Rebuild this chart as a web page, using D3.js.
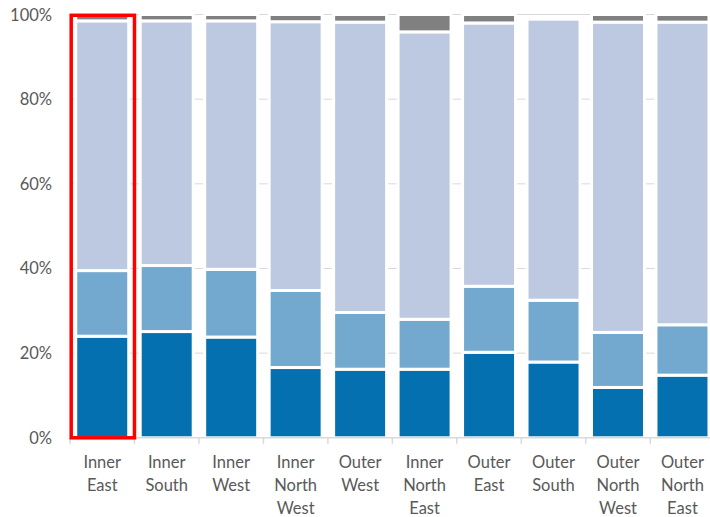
<!DOCTYPE html>
<html>
<head>
<meta charset="utf-8">
<script src="https://cdn.jsdelivr.net/npm/d3@7"></script>
<style>
  html, body { margin: 0; padding: 0; background: #fff; }
  svg { display: block; }
</style>
</head>
<body>
<svg id="chart" width="710" height="517"></svg>
<script>
const categories = [
  ["Inner", "East"], ["Inner", "South"], ["Inner", "West"], ["Inner", "North", "West"],
  ["Outer", "West"], ["Inner", "North", "East"], ["Outer", "East"], ["Outer", "South"],
  ["Outer", "North", "West"], ["Outer", "North", "East"]
];
const seriesNames = ["s1", "s2", "s3", "s4"];
const s1 = [24.0, 25.1, 23.8, 16.6, 16.2, 16.2, 20.2, 17.9, 11.9, 14.8];
const s2 = [15.5, 15.6, 16.0, 18.2, 13.4, 11.8, 15.6, 14.6, 13.0, 11.9];
const s3 = [59.0, 57.8, 58.7, 63.5, 68.6, 67.9, 62.2, 66.4, 73.3, 71.5];
const s4 = [1.5, 1.5, 1.5, 1.7, 1.8, 4.1, 2.0, 0.0, 1.8, 1.8];
const yTicks = [0, 20, 40, 60, 80, 100];

const colors = ["#0570b0", "#74a9cf", "#bdc9e1", "#808080"];
const seriesVals = [s1, s2, s3, s4];
const keys = categories.map(c => c.join(" "));
const table = keys.map((k, i) => {
  const row = { key: k };
  seriesNames.forEach((s, j) => row[s] = seriesVals[j][i]);
  return row;
});
const stacked = d3.stack().keys(seriesNames)(table);

const svg = d3.select("#chart");
const x0 = 70, x1 = 714.7, yTop = 14.5, yBot = 437.8;
const x = d3.scaleBand().domain(keys).range([x0, x1]).paddingInner(0.178).paddingOuter(0.089);
const y = d3.scaleLinear().domain([0, 100]).range([yBot, yTop]);
const font = "Lato, 'Noto Sans', sans-serif";

// gridlines
svg.append("g").selectAll("line").data(yTicks.filter(t => t > 0)).join("line")
  .attr("x1", x0).attr("x2", x1)
  .attr("y1", d => y(d)).attr("y2", d => y(d))
  .attr("stroke", "#d9d9d9").attr("stroke-width", 1);

// bars
svg.append("g").selectAll("g").data(stacked).join("g")
  .attr("fill", (d, i) => colors[i])
  .selectAll("rect").data(d => d.filter(p => p[1] - p[0] > 0)).join("rect")
  .attr("x", d => x(d.data.key))
  .attr("width", x.bandwidth())
  .attr("y", d => y(d[1]))
  .attr("height", d => y(d[0]) - y(d[1]))
  .attr("stroke", "#fff").attr("stroke-width", 3);

// x axis line and ticks
const step = x.step();
svg.append("line").attr("x1", x0).attr("x2", x1).attr("y1", yBot).attr("y2", yBot)
  .attr("stroke", "#d9d9d9").attr("stroke-width", 1.5);
svg.append("g").selectAll("line").data(d3.range(keys.length + 1)).join("line")
  .attr("x1", i => x0 + i * step).attr("x2", i => x0 + i * step)
  .attr("y1", yBot).attr("y2", yBot + 6)
  .attr("stroke", "#d9d9d9").attr("stroke-width", 1.5);

// y labels
svg.append("g").selectAll("text").data(yTicks).join("text")
  .attr("x", 52).attr("y", d => y(d))
  .attr("text-anchor", "end").attr("dominant-baseline", "central")
  .attr("font-family", font).attr("font-size", 16.5).attr("fill", "#595959")
  .text(d => d + "%");

// x labels
const xl = svg.append("g").selectAll("text").data(categories).join("text")
  .attr("text-anchor", "middle")
  .attr("font-family", font).attr("font-size", 16.5).attr("fill", "#595959");
xl.each(function(c, i) {
  const t = d3.select(this);
  const cx = x(keys[i]) + x.bandwidth() / 2;
  c.forEach((line, j) => {
    t.append("tspan").attr("x", cx).attr("y", 462 + j * 23)
      .attr("dominant-baseline", "central").text(line);
  });
});

// highlight box
svg.append("rect")
  .attr("x", x0 + 1.2).attr("y", 15.3)
  .attr("width", step - 1.2).attr("height", yBot - 15.3)
  .attr("fill", "none").attr("stroke", "#ff0000").attr("stroke-width", 3.5);
</script>
</body>
</html>
